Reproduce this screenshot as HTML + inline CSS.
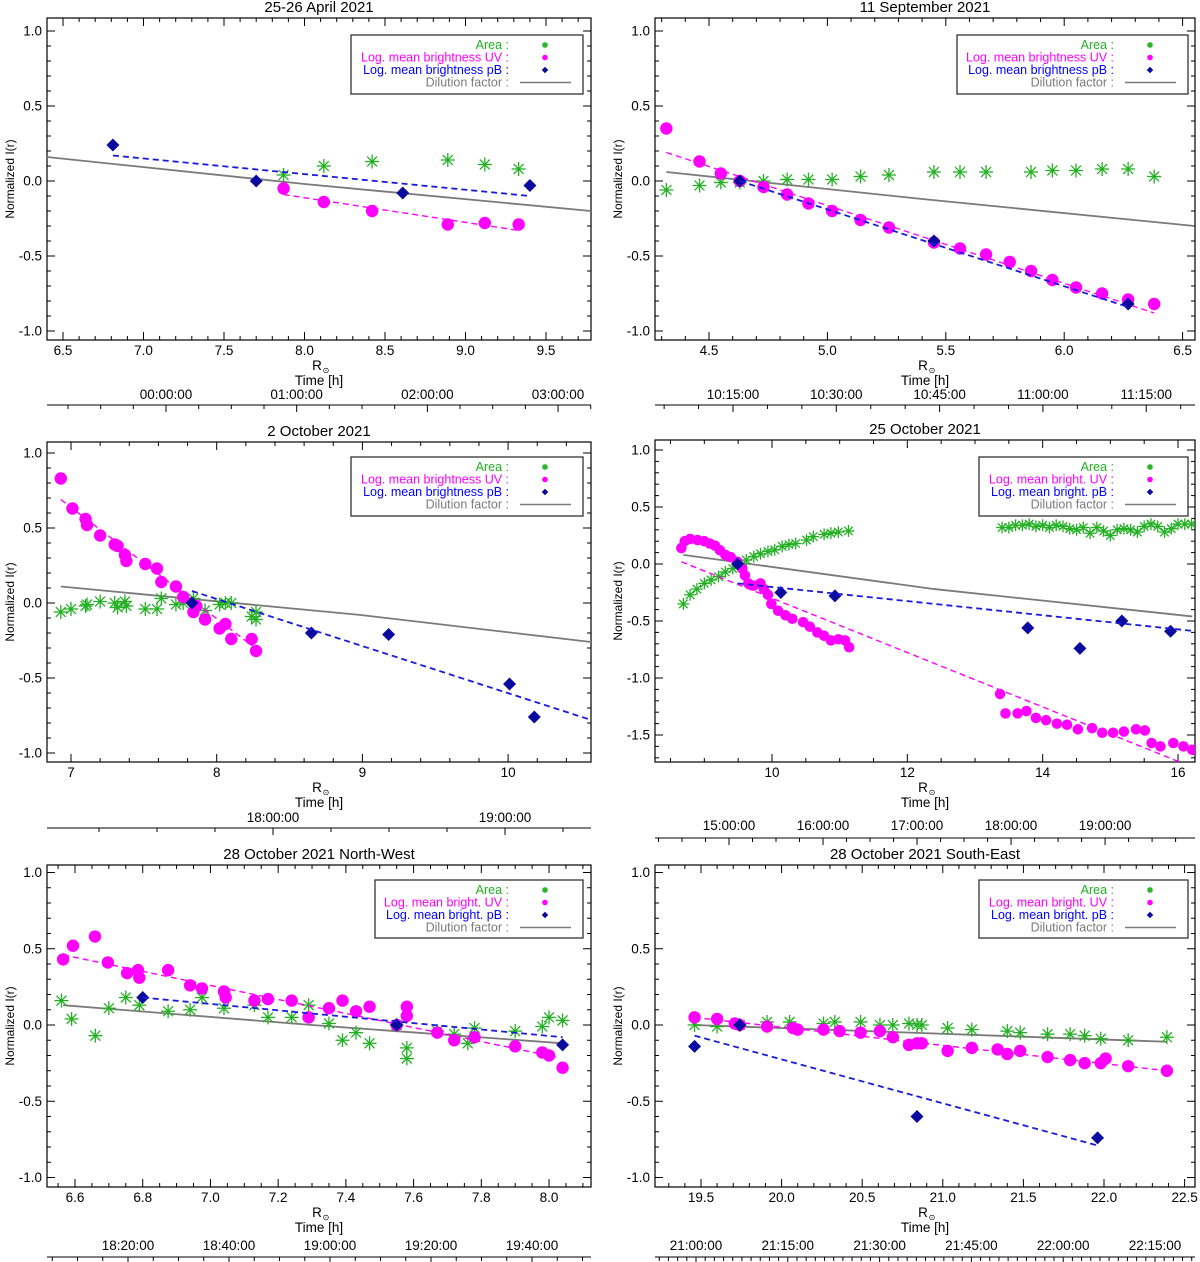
<!DOCTYPE html>
<html><head><meta charset="utf-8"><style>
body{margin:0;background:#fff;}
svg{display:block;font-family:"Liberation Sans",Arial,sans-serif;}
</style></head><body>
<svg id="chart" width="1200" height="1262" viewBox="0 0 1200 1262"></svg>
<script>
// ---------- DATA ----------
const p1Area=[[7.87,0.04],[8.12,0.10],[8.42,0.13],[8.89,0.14],[9.12,0.11],[9.33,0.08]];
const p1UV=[[7.87,-0.05],[8.12,-0.14],[8.42,-0.20],[8.89,-0.29],[9.12,-0.28],[9.33,-0.29]];
const p1PB=[[6.81,0.24],[7.70,0.00],[8.61,-0.08],[9.40,-0.03]];
const p1UVfit=[[7.87,-0.09],[9.33,-0.33]];
const p1PBfit=[[6.81,0.17],[9.40,-0.10]];
const p1Dil=[[6.40,0.16],[8.0,-0.02],[9.78,-0.20]];

const p2Area=[[4.32,-0.06],[4.46,-0.03],[4.55,-0.01],[4.63,-0.01],[4.73,0.0],[4.83,0.01],[4.92,0.01],[5.02,0.01],[5.14,0.03],[5.26,0.04],[5.45,0.06],[5.56,0.06],[5.67,0.06],[5.86,0.06],[5.95,0.07],[6.05,0.07],[6.16,0.08],[6.27,0.08],[6.38,0.03]];
const p2UV=[[4.32,0.35],[4.46,0.13],[4.55,0.05],[4.63,0.0],[4.73,-0.04],[4.83,-0.09],[4.92,-0.15],[5.02,-0.20],[5.14,-0.26],[5.26,-0.31],[5.45,-0.41],[5.56,-0.45],[5.67,-0.49],[5.77,-0.54],[5.86,-0.60],[5.95,-0.66],[6.05,-0.71],[6.16,-0.75],[6.27,-0.79],[6.38,-0.82]];
const p2PB=[[4.63,0.0],[5.45,-0.40],[6.27,-0.82]];
const p2UVfit=[[4.32,0.19],[6.38,-0.88]];
const p2PBfit=[[4.63,0.0],[6.27,-0.84]];
const p2Dil=[[4.32,0.06],[5.4,-0.12],[6.55,-0.30]];

const p3Area=[[6.93,-0.06],[7.0,-0.04],[7.10,-0.02],[7.11,-0.01],[7.20,0.01],[7.30,0.0],[7.32,-0.03],[7.37,0.01],[7.38,-0.02],[7.51,-0.04],[7.59,-0.04],[7.62,0.03],[7.72,-0.01],[7.77,0.0],[7.84,0.03],[7.92,-0.05],[8.02,-0.01],[8.06,0.0],[8.10,0.0],[8.24,-0.09],[8.27,-0.06],[8.27,-0.11]];
const p3UV=[[6.93,0.83],[7.01,0.63],[7.10,0.56],[7.11,0.52],[7.20,0.45],[7.30,0.39],[7.32,0.38],[7.37,0.32],[7.38,0.28],[7.51,0.26],[7.59,0.23],[7.62,0.14],[7.72,0.11],[7.77,0.04],[7.84,-0.06],[7.86,-0.02],[7.92,-0.11],[8.02,-0.17],[8.06,-0.14],[8.10,-0.24],[8.24,-0.24],[8.27,-0.32]];
const p3PB=[[7.83,0.0],[8.65,-0.20],[9.18,-0.21],[10.01,-0.54],[10.18,-0.76]];
const p3UVfit=[[6.93,0.69],[8.25,-0.29]];
const p3PBfit=[[7.83,0.08],[10.57,-0.78]];
const p3Dil=[[6.93,0.11],[8.99,-0.08],[10.57,-0.26]];

const p4Area=[[8.69,-0.35],[8.79,-0.27],[8.89,-0.22],[9.0,-0.17],[9.1,-0.14],[9.21,-0.11],[9.31,-0.07],[9.42,-0.04],[9.52,0.0],[9.62,0.035],[9.73,0.065],[9.83,0.09],[9.94,0.11],[10.04,0.125],[10.15,0.155],[10.25,0.17],[10.35,0.18],[10.51,0.21],[10.61,0.24],[10.77,0.26],[10.87,0.27],[10.98,0.28],[11.13,0.29],
[13.4,0.32],[13.5,0.32],[13.6,0.34],[13.7,0.34],[13.8,0.35],[13.9,0.33],[14.0,0.34],[14.1,0.32],[14.2,0.34],[14.3,0.33],[14.4,0.31],[14.5,0.30],[14.6,0.32],[14.7,0.27],[14.8,0.32],[14.9,0.29],[15.0,0.25],[15.1,0.30],[15.2,0.31],[15.3,0.30],[15.4,0.28],[15.5,0.33],[15.6,0.35],[15.7,0.33],[15.8,0.28],[15.9,0.31],[16.0,0.35],[16.1,0.35],[16.2,0.35]];
const p4UV=[[8.66,0.14],[8.71,0.20],[8.79,0.22],[8.90,0.21],[9.0,0.20],[9.08,0.18],[9.16,0.16],[9.23,0.12],[9.31,0.08],[9.39,0.06],[9.49,0.02],[9.56,-0.04],[9.6,-0.10],[9.65,-0.17],[9.73,-0.19],[9.83,-0.17],[9.88,-0.22],[9.94,-0.27],[9.99,-0.35],[10.09,-0.41],[10.2,-0.45],[10.3,-0.48],[10.46,-0.51],[10.56,-0.55],[10.67,-0.60],[10.77,-0.63],[10.87,-0.67],[10.98,-0.66],[11.08,-0.67],[11.14,-0.73],
[13.37,-1.14],[13.45,-1.31],[13.63,-1.31],[13.76,-1.29],[13.9,-1.35],[14.05,-1.37],[14.21,-1.40],[14.36,-1.41],[14.52,-1.45],[14.73,-1.44],[14.88,-1.48],[15.04,-1.48],[15.2,-1.47],[15.38,-1.45],[15.51,-1.46],[15.61,-1.57],[15.74,-1.60],[15.93,-1.57],[16.08,-1.60],[16.21,-1.63]];
const p4PB=[[9.49,0.0],[10.13,-0.25],[10.93,-0.28],[13.78,-0.56],[14.55,-0.74],[15.17,-0.50],[15.89,-0.59]];
const p4UVfit=[[8.66,0.02],[16.08,-1.75]];
const p4PBfit=[[9.49,-0.17],[16.27,-0.59]];
const p4Dil=[[8.69,0.08],[12.4,-0.22],[16.21,-0.46]];

const p5Area=[[6.56,0.16],[6.59,0.04],[6.66,-0.07],[6.70,0.11],[6.75,0.18],[6.79,0.13],[6.875,0.09],[6.94,0.10],[6.975,0.18],[7.04,0.11],[7.13,0.13],[7.17,0.05],[7.24,0.05],[7.29,0.13],[7.35,0.01],[7.39,-0.10],[7.43,-0.05],[7.47,-0.12],[7.55,0.0],[7.58,-0.22],[7.58,-0.15],[7.67,-0.04],[7.72,-0.06],[7.76,-0.12],[7.78,-0.02],[7.90,-0.04],[7.98,-0.01],[8.0,0.05],[8.04,0.03]];
const p5UV=[[6.565,0.43],[6.594,0.52],[6.659,0.58],[6.697,0.41],[6.754,0.34],[6.786,0.36],[6.79,0.31],[6.875,0.36],[6.94,0.26],[6.975,0.24],[7.04,0.22],[7.045,0.18],[7.13,0.16],[7.17,0.17],[7.24,0.16],[7.29,0.05],[7.35,0.11],[7.39,0.16],[7.43,0.09],[7.47,0.12],[7.55,0.0],[7.58,0.12],[7.58,0.06],[7.67,-0.05],[7.72,-0.10],[7.78,-0.08],[7.90,-0.14],[7.98,-0.18],[8.0,-0.20],[8.04,-0.28]];
const p5PB=[[6.8,0.18],[7.55,0.0],[8.04,-0.13]];
const p5UVfit=[[6.565,0.46],[8.02,-0.21]];
const p5PBfit=[[6.8,0.18],[8.04,-0.08]];
const p5Dil=[[6.565,0.13],[7.3,0.0],[8.04,-0.12]];

const p6AreaR=[19.46,19.6,19.74,19.91,20.05,20.26,20.33,20.49,20.61,20.69,20.79,20.84,20.87,21.03,21.18,21.4,21.48,21.65,21.79,21.88,21.98,22.15,22.39];
const p6AreaV=[0.0,-0.01,0.0,0.02,0.02,0.01,0.02,0.02,0.0,0.0,0.01,0.0,0.0,-0.02,-0.03,-0.04,-0.05,-0.06,-0.06,-0.07,-0.09,-0.10,-0.08];
const p6UVR=[19.46,19.6,19.71,19.74,19.91,20.07,20.1,20.26,20.36,20.49,20.61,20.69,20.79,20.84,20.87,21.03,21.18,21.34,21.4,21.48,21.65,21.79,21.88,21.98,22.01,22.15,22.39];
const p6UVV=[0.05,0.04,0.01,0.0,-0.01,-0.02,-0.03,-0.03,-0.04,-0.05,-0.04,-0.08,-0.13,-0.12,-0.12,-0.17,-0.15,-0.16,-0.19,-0.17,-0.21,-0.23,-0.25,-0.25,-0.22,-0.27,-0.30];
const p6PB=[[19.46,-0.14],[19.74,0.0],[20.84,-0.60],[21.96,-0.74]];
const p6UVfit=[[19.46,0.05],[22.39,-0.30]];
const p6PBfit=[[19.46,-0.07],[21.96,-0.79]];
const p6Dil=[[19.46,0.0],[22.39,-0.11]];
const p6Area=p6AreaR.map((r,i)=>[r,p6AreaV[i]]);
const p6UV=p6UVR.map((r,i)=>[r,p6UVV[i]]);

// ---------- LAYOUT ----------
const panels=[
 {id:'p1',title:'25-26 April 2021',L:47,R:591,T:18,B:340,x0:6.5,x0px:63,xpu:161,yzero:181,ypu:150,xMaj:0.5,xMin:0.1,xDec:1,yTicks:[-1,-0.5,0,0.5,1],
  lg:[351,583,35,94],short:false,tlab:['00:00:00','01:00:00','02:00:00','03:00:00'],tmin:[0,60,120,180],t0:0,t0px:166,tpm:2.178,tminor:15,tlabY:399,tlineY:405,
  area:p1Area,uv:p1UV,pb:p1PB,uvfit:p1UVfit,pbfit:p1PBfit,dil:p1Dil},
 {id:'p2',title:'11 September 2021',L:655,R:1195,T:18,B:340,x0:4.5,x0px:709,xpu:236.8,yzero:181,ypu:150,xMaj:0.5,xMin:0.1,xDec:1,yTicks:[-1,-0.5,0,0.5,1],
  lg:[957,1188,35,94],short:false,tlab:['10:15:00','10:30:00','10:45:00','11:00:00','11:15:00'],tmin:[615,630,645,660,675],t0:615,t0px:733,tpm:6.887,tminor:5,tlabY:399,tlineY:405,
  area:p2Area,uv:p2UV,pb:p2PB,uvfit:p2UVfit,pbfit:p2PBfit,dil:p2Dil},
 {id:'p3',title:'2 October 2021',L:47,R:591,T:442,B:762,x0:7,x0px:71,xpu:145.7,yzero:603,ypu:150,xMaj:1,xMin:0.2,xDec:0,yTicks:[-1,-0.5,0,0.5,1],
  lg:[351,583,457,516],short:false,tlab:['18:00:00','19:00:00'],tmin:[1080,1140],t0:1080,t0px:273,tpm:3.867,tminor:15,tlabY:822,tlineY:828,
  area:p3Area,uv:p3UV,pb:p3PB,uvfit:p3UVfit,pbfit:p3PBfit,dil:p3Dil},
 {id:'p4',title:'25 October 2021',L:655,R:1195,T:440,B:762,x0:10,x0px:772,xpu:67.67,yzero:564,ypu:114,xMaj:2,xMin:0.5,xDec:0,yTicks:[-1.5,-1,-0.5,0,0.5,1],
  lg:[979,1188,457,516],short:true,tlab:['15:00:00','16:00:00','17:00:00','18:00:00','19:00:00'],tmin:[900,960,1020,1080,1140],t0:900,t0px:729,tpm:1.567,tminor:15,tlabY:830,tlineY:838,
  area:p4Area,uv:p4UV,pb:p4PB,uvfit:p4UVfit,pbfit:p4PBfit,dil:p4Dil,ms:0.85},
 {id:'p5',title:'28 October 2021 North-West',L:47,R:591,T:865,B:1187,x0:6.6,x0px:75,xpu:338.6,yzero:1025,ypu:152.5,xMaj:0.2,xMin:0.05,xDec:1,yTicks:[-1,-0.5,0,0.5,1],
  lg:[375,583,880,938],short:true,tlab:['18:20:00','18:40:00','19:00:00','19:20:00','19:40:00'],tmin:[1100,1120,1140,1160,1180],t0:1100,t0px:128,tpm:5.05,tminor:5,tlabY:1250,tlineY:1257,
  area:p5Area,uv:p5UV,pb:p5PB,uvfit:p5UVfit,pbfit:p5PBfit,dil:p5Dil},
 {id:'p6',title:'28 October 2021 South-East',L:655,R:1195,T:865,B:1187,x0:19.5,x0px:701,xpu:161.2,yzero:1025,ypu:152.5,xMaj:0.5,xMin:0.1,xDec:1,yTicks:[-1,-0.5,0,0.5,1],
  lg:[979,1188,880,938],short:true,tlab:['21:00:00','21:15:00','21:30:00','21:45:00','22:00:00','22:15:00'],tmin:[1260,1275,1290,1305,1320,1335],t0:1260,t0px:696,tpm:6.12,tminor:1.5,tlabY:1250,tlineY:1257,
  area:p6Area,uv:p6UV,pb:p6PB,uvfit:p6UVfit,pbfit:p6PBfit,dil:p6Dil}
];

const NS='http://www.w3.org/2000/svg';
const svg=document.getElementById('chart');
function mk(tag,attrs,parent){const e=document.createElementNS(NS,tag);for(const k in attrs)e.setAttribute(k,attrs[k]);(parent||svg).appendChild(e);return e;}
function txt(s,x,y,attrs,parent){const e=mk('text',Object.assign({x:x,y:y,'font-size':13.5},attrs),parent);e.textContent=s;return e;}
const GREEN='#22b022',MAG='#ff00ff',NAVY='#0a0a9e',BLUE='#0000ff',GRAY='#7a7a7a';

function star(g,cx,cy,s){
  const r=7*s;
  for(let a=0;a<4;a++){const t=a*Math.PI/4;mk('line',{x1:cx-r*Math.cos(t),y1:cy-r*Math.sin(t),x2:cx+r*Math.cos(t),y2:cy+r*Math.sin(t),stroke:GREEN,'stroke-width':1.3},g);}
}
function diamond(g,cx,cy,s){const r=6.5*s;return mk('polygon',{points:`${cx},${cy-r} ${cx+r},${cy} ${cx},${cy+r} ${cx-r},${cy}`,fill:NAVY},g);}

panels.forEach(p=>{
  const g=mk('g',{});
  
  
  const X=r=>p.x0px+(r-p.x0)*p.xpu;
  const Y=v=>p.yzero-v*p.ypu;
  const s=p.ms||1;
  const cx=(p.L+p.R)/2;
  const t=txt(p.title,cx,p.T-6,{'text-anchor':'middle','font-size':15},g);
  
  
  const cp=mk('clipPath',{id:'clip'+p.id},g);mk('rect',{x:p.L,y:p.T,width:p.R-p.L,height:p.B-p.T},cp);
  const ax=mk('g',{stroke:'#000','stroke-width':1},g);
  
  
  const xmin=p.x0+(p.L-p.x0px)/p.xpu, xmax=p.x0+(p.R-p.x0px)/p.xpu;
  for(let k=Math.ceil(xmin/p.xMin-1e-6);k*p.xMin<=xmax+1e-9;k++){
    const r=k*p.xMin;const px=X(r);
    const major=Math.abs(r/p.xMaj-Math.round(r/p.xMaj))<1e-6;const len=major?8:4;
    mk('line',{x1:px,y1:p.B,x2:px,y2:p.B-len},ax);mk('line',{x1:px,y1:p.T,x2:px,y2:p.T+len},ax);
    if(major){const tl=txt(r.toFixed(p.xDec),px,p.B+15,{'text-anchor':'middle',stroke:'none'},g);
      }
  }
  const ymin=(p.yzero-p.B)/p.ypu, ymax=(p.yzero-p.T)/p.ypu;
  for(let k=Math.ceil(ymin*10-1e-6);k/10<=ymax+1e-9;k++){
    const v=k/10;const py=Y(v);const major=k%5===0;const len=major?8:4;
    mk('line',{x1:p.L,y1:py,x2:p.L+len,y2:py},ax);mk('line',{x1:p.R,y1:py,x2:p.R-len,y2:py},ax);
  }
  p.yTicks.forEach(v=>{const tl=txt(v.toFixed(1),p.L-5,Y(v)+4.5,{'text-anchor':'end'},g);
    });
  mk('rect',{x:p.L,y:p.T,width:p.R-p.L,height:p.B-p.T,fill:'none',stroke:'#000','stroke-width':1.2},g);
  const yt=txt('Normalized I(r)',0,0,{'text-anchor':'middle','font-size':12,transform:`translate(${p.L-33},${(p.T+p.B)/2}) rotate(-90)`},g);
  
  const xt=txt('R',cx-2,p.B+30,{'text-anchor':'middle'},g);
  
  txt('⊙',cx+7,p.B+33,{'font-size':8,'text-anchor':'middle'},g);
  const tt=txt('Time [h]',cx,p.B+45,{'text-anchor':'middle'},g);
  
  const ta=mk('g',{stroke:'#000','stroke-width':1},g);
  
  
  mk('line',{x1:p.L,y1:p.tlineY,x2:p.R,y2:p.tlineY},ta);
  const T=m=>p.t0px+(m-p.t0)*p.tpm;
  const mlo=p.t0+(p.L-p.t0px)/p.tpm, mhi=p.t0+(p.R-p.t0px)/p.tpm;
  for(let k=Math.ceil((mlo-p.t0)/p.tminor);p.t0+k*p.tminor<=mhi;k++){
    const m=p.t0+k*p.tminor;
    const major=p.tmin.some(q=>Math.abs(q-m)<1e-6);mk('line',{x1:T(m),y1:p.tlineY,x2:T(m),y2:p.tlineY+(major?7:4)},ta);
  }
  p.tlab.forEach((l,i)=>{const tl=txt(l,T(p.tmin[i]),p.tlabY,{'text-anchor':'middle'},g);
    });
  const d=mk('g',{'clip-path':`url(#clip${p.id})`},g);
  const line=(pts,col,w,dash,name)=>{const e=mk('polyline',{points:pts.map(q=>X(q[0])+','+Y(q[1])).join(' '),fill:'none',stroke:col,'stroke-width':w},d);
    if(dash)e.setAttribute('stroke-dasharray',dash);
    };
  line(p.dil,GRAY,1.8,null,'dilution-factor-line');
  p.area.forEach(q=>star(d,X(q[0]),Y(q[1]),s));
  p.uv.forEach(q=>{const c=mk('circle',{cx:X(q[0]),cy:Y(q[1]),r:6.2*s,fill:MAG},d);
    });
  line(p.uvfit,MAG,1.4,'6,4','uv-fit-line');
  p.pb.forEach(q=>{const e=diamond(d,X(q[0]),Y(q[1]),1);
    });
  line(p.pbfit,'#1a1adc',1.8,'6,4','pb-fit-line');
  const [lx1,lx2,ly1,ly2]=p.lg;
  const lg=mk('g',{},g);
  
  
  mk('rect',{x:lx1,y:ly1,width:lx2-lx1,height:ly2-ly1,fill:'#fff',stroke:'#333','stroke-width':1.3},lg);
  const te=lx2-74, sx=lx2-38;
  const rows=[['Area :',GREEN],[p.short?'Log. mean bright. UV :':'Log. mean brightness UV :',MAG],[p.short?'Log. mean bright. pB :':'Log. mean brightness pB :',BLUE],['Dilution factor :',GRAY]];
  rows.forEach((rw,i)=>{const ty=ly1+14+i*12.5;txt(rw[0],te,ty,{'text-anchor':'end',fill:rw[1],'font-size':12.5},lg);});
  star(lg,sx,ly1+10,0.45);
  mk('circle',{cx:sx,cy:ly1+22.5,r:2.8,fill:MAG},lg);
  diamond(lg,sx,ly1+35,0.5);
  mk('line',{x1:lx2-63,y1:ly1+47.5,x2:lx2-12,y2:ly1+47.5,stroke:GRAY,'stroke-width':1.5},lg);
});
</script>
</body></html>
